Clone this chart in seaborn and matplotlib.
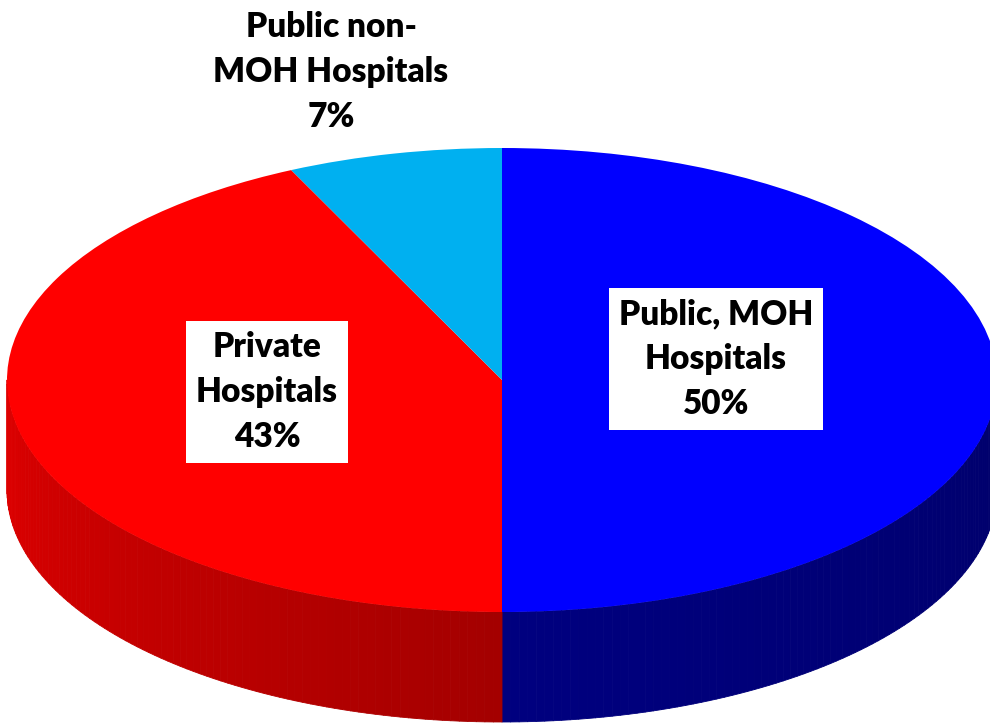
import numpy as np
import matplotlib
matplotlib.use("Agg")
import matplotlib.pyplot as plt
import seaborn as sns
from matplotlib.collections import PolyCollection

# --- data -------------------------------------------------------------------
names = ["Public, MOH\nHospitals", "Private\nHospitals", "Public non-\nMOH Hospitals"]
shares = [50, 43, 7]
colors = ["#0000FF", "#FF0000", "#00B0F0"]

# --- layout (pixels of the 990x726 picture) ---------------------------------
W, H = 990, 726
CX, CY = 502, 380      # centre of the top face
RX, RY = 495, 232      # half axes of the top face
DEPTH = 110            # thickness of the pie

sns.set_theme(style="white")
plt.rcParams["font.family"] = ["Lato", "DejaVu Sans"]

fig = plt.figure(figsize=(W / 100, H / 100), dpi=100)
ax = fig.add_axes([0, 0, 1, 1])

# top face: a normal pie, squashed into an ellipse by the axis limits
wedges, _ = ax.pie(shares, colors=colors, startangle=90, counterclock=False,
                   radius=1, wedgeprops=dict(linewidth=0))
for w in wedges:
    w.set_zorder(3)

ax.set_aspect("auto")
ax.set_xlim(-CX / RX, (W - CX) / RX)
ax.set_ylim(-(H - CY) / RY, CY / RY)
ax.axis("off")

d = DEPTH / RY


def shade(theta):
    # darker towards the right, lighter on the left rim
    if theta < 270:
        return 0.88 - 0.24 * (theta - 180) / 90
    return 0.50 - 0.08 * (theta - 270) / 90


# side wall: only the front half (180..360 deg) is visible
polys, fcs = [], []
for w, col in zip(wedges, colors):
    t1, t2 = w.theta1 % 360, w.theta2 % 360
    if t2 <= t1:
        t2 += 360
    lo, hi = max(t1, 180), min(t2, 360)
    if hi <= lo:
        continue
    base = np.array(matplotlib.colors.to_rgb(col))
    steps = np.linspace(lo, hi, int(hi - lo) + 2)
    for a, b in zip(steps[:-1], steps[1:]):
        ra, rb = np.radians(a), np.radians(b)
        xa, ya = np.cos(ra), np.sin(ra)
        xb, yb = np.cos(rb), np.sin(rb)
        polys.append([(xa, ya), (xb, yb), (xb, yb - d), (xa, ya - d)])
        fcs.append(tuple(base * shade((a + b) / 2)))

ax.add_collection(PolyCollection(polys, facecolors=fcs, edgecolors=fcs,
                                 linewidths=0.6, zorder=2))


def px(x, y):
    return (x - CX) / RX, (CY - y) / RY


label_pos = [(716, 359), (267, 392), (331, 72)]
boxed = [True, True, False]
for name, share, (lx, ly), box in zip(names, shares, label_pos, boxed):
    kw = dict(ha="center", va="center", fontsize=24, fontweight="heavy",
              color="black", linespacing=1.5, zorder=5)
    if box:
        kw["bbox"] = dict(boxstyle="square,pad=0.3", facecolor="white",
                          edgecolor="none")
    ax.text(*px(lx, ly), f"{name}\n{share}%", **kw)

fig.savefig("out.png", dpi=100, facecolor="white")
